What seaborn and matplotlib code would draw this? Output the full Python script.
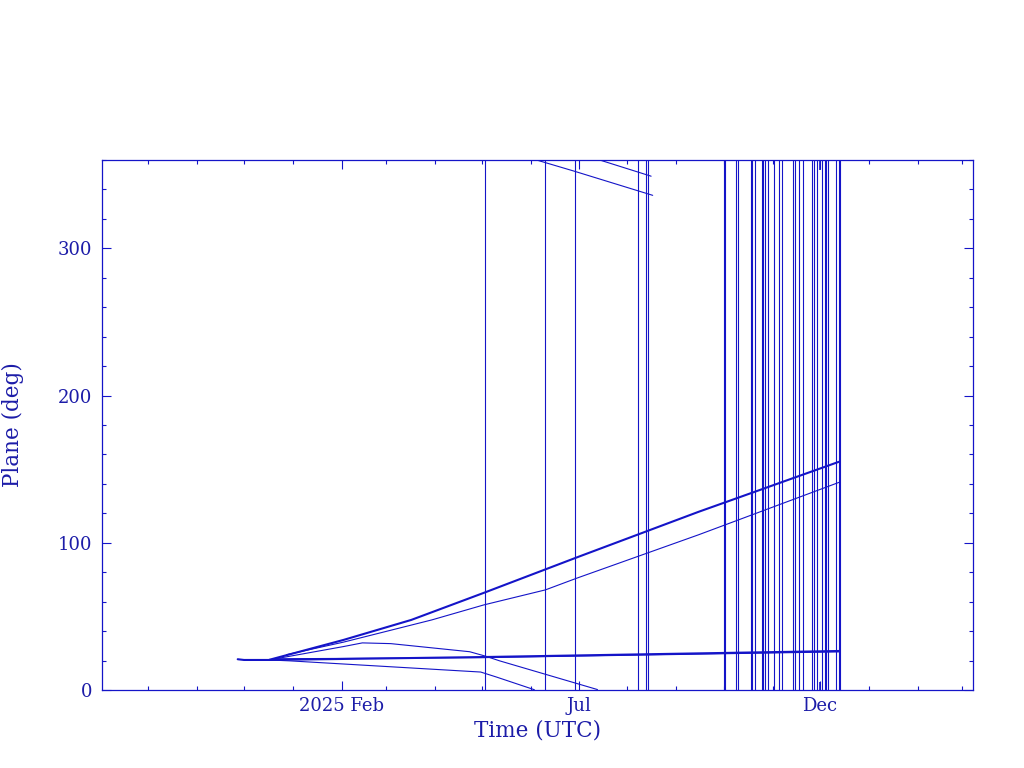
import numpy as np
import pandas as pd
import seaborn as sns
import matplotlib
matplotlib.use("Agg")
import matplotlib.pyplot as plt
import matplotlib.dates as mdates
from matplotlib.ticker import MultipleLocator

# orbital plane tracks (date, plane in deg)
track_a_dates = ["2024-12-17", "2025-02-02", "2025-03-17", "2025-05-02", "2025-07-01", "2025-09-15", "2025-12-13"]
track_a_plane = [20.5, 34.0, 47.6, 66.0, 90.5, 121.0, 155.0]

track_b_dates = ["2024-12-28", "2025-02-02", "2025-03-30", "2025-05-02", "2025-06-10", "2025-06-30", "2025-09-15", "2025-12-13"]
track_b_plane = [24.0, 32.5, 47.6, 57.8, 68.0, 76.0, 105.4, 141.0]

track_c_dates = ["2024-12-20", "2025-02-02", "2025-02-14", "2025-03-04", "2025-04-23", "2025-05-03", "2025-05-12", "2025-07-13"]
track_c_plane = [21.0, 29.5, 32.0, 31.5, 26.0, 23.0, 19.8, 0.3]
track_c_wrap_dates = ["2025-07-15", "2025-08-16"]
track_c_wrap_plane = [359.8, 349.0]

track_d_dates = ["2024-12-17", "2024-12-30", "2025-04-30", "2025-05-10", "2025-06-03"]
track_d_plane = [20.4, 19.8, 12.2, 8.8, 0.2]
track_d_wrap_dates = ["2025-06-05", "2025-06-28", "2025-08-17"]
track_d_wrap_plane = [359.8, 352.5, 336.0]

track_e_dates = ["2024-11-27", "2024-12-01", "2024-12-17", "2025-05-02", "2025-12-13"]
track_e_plane = [20.9, 20.4, 20.4, 22.4, 26.5]

track_f_dates = ["2024-12-20", "2025-05-02", "2025-12-13"]
track_f_plane = [21.2, 22.0, 25.9]

# full-height jumps (bad plane values, clipped by the frame)
jump_dates = ["2025-05-03", "2025-06-10", "2025-06-29", "2025-08-08", "2025-08-13", "2025-08-14",
              "2025-10-01", "2025-10-02", "2025-10-09", "2025-10-10", "2025-10-18", "2025-10-19",
              "2025-10-21", "2025-10-25", "2025-10-26", "2025-10-27", "2025-10-29", "2025-11-02",
              "2025-11-05", "2025-11-07", "2025-11-14", "2025-11-15", "2025-11-18", "2025-11-20",
              "2025-11-26", "2025-11-27", "2025-11-29", "2025-12-02", "2025-12-04", "2025-12-05",
              "2025-12-06", "2025-12-11", "2025-12-13", "2025-12-14"]
short_jump_date = "2025-12-01"

major_dates = ["2025-02-01", "2025-07-01", "2025-12-01"]
major_labels = ["2025 Feb", "Jul", "Dec"]

BLUE = "#1414c8"
TXT = "#1c1ca8"

tracks = {
    "a": (track_a_dates, track_a_plane),
    "b": (track_b_dates, track_b_plane),
    "c": (track_c_dates, track_c_plane),
    "c2": (track_c_wrap_dates, track_c_wrap_plane),
    "d": (track_d_dates, track_d_plane),
    "d2": (track_d_wrap_dates, track_d_wrap_plane),
    "e": (track_e_dates, track_e_plane),
    "f": (track_f_dates, track_f_plane),
}
rows = []
for name, (d, p) in tracks.items():
    for t, v in zip(d, p):
        rows.append({"track": name, "time": pd.Timestamp(t), "plane": v})
df = pd.DataFrame(rows)

sns.set_style("white")
plt.rcParams["font.family"] = ["DejaVu Serif"]

fig = plt.figure(figsize=(10.24, 7.68), dpi=100)
ax = fig.add_axes([102 / 1024, 1 - 690 / 768, 871 / 1024, 530 / 768])

thick = df[df["track"].isin(["a", "e"])]
thin = df[~df["track"].isin(["a", "e"])]
sns.lineplot(data=thin, x="time", y="plane", units="track", estimator=None,
             color=BLUE, linewidth=0.8, legend=False, ax=ax)
sns.lineplot(data=thick, x="time", y="plane", units="track", estimator=None,
             color=BLUE, linewidth=1.5, legend=False, ax=ax)

ax.vlines(pd.to_datetime(jump_dates), 0, 360, color=BLUE, linewidth=0.8)
ax.vlines([pd.Timestamp(short_jump_date)] * 2, [0, 353], [5.4, 360], color=BLUE, linewidth=1.2)

ax.set_xlim(pd.Timestamp("2024-09-02"), pd.Timestamp("2026-03-08"))
ax.set_ylim(0, 360)

ax.set_xticks(pd.to_datetime(major_dates), major_labels)
ax.xaxis.set_minor_locator(mdates.MonthLocator())
ax.yaxis.set_major_locator(MultipleLocator(100))
ax.yaxis.set_minor_locator(MultipleLocator(20))

ax.tick_params(which="both", direction="in", top=True, right=True, bottom=True, left=True,
               color=BLUE, labelcolor=TXT, width=0.8, labelsize=13)
ax.tick_params(which="major", length=6.5)
ax.tick_params(which="minor", length=3.2)
ax.tick_params(axis="x", pad=5)
ax.tick_params(axis="y", pad=7)

for s in ax.spines.values():
    s.set_color(BLUE)
    s.set_linewidth(0.9)

ax.set_xlabel("Time (UTC)", color=TXT, fontsize=15.5)
ax.set_ylabel("Plane (deg)", color=TXT, fontsize=15.5)
ax.xaxis.set_label_coords(0.5, -0.056)
ax.yaxis.set_label_coords(-0.089, 0.5)

fig.savefig("out.png", dpi=100)
